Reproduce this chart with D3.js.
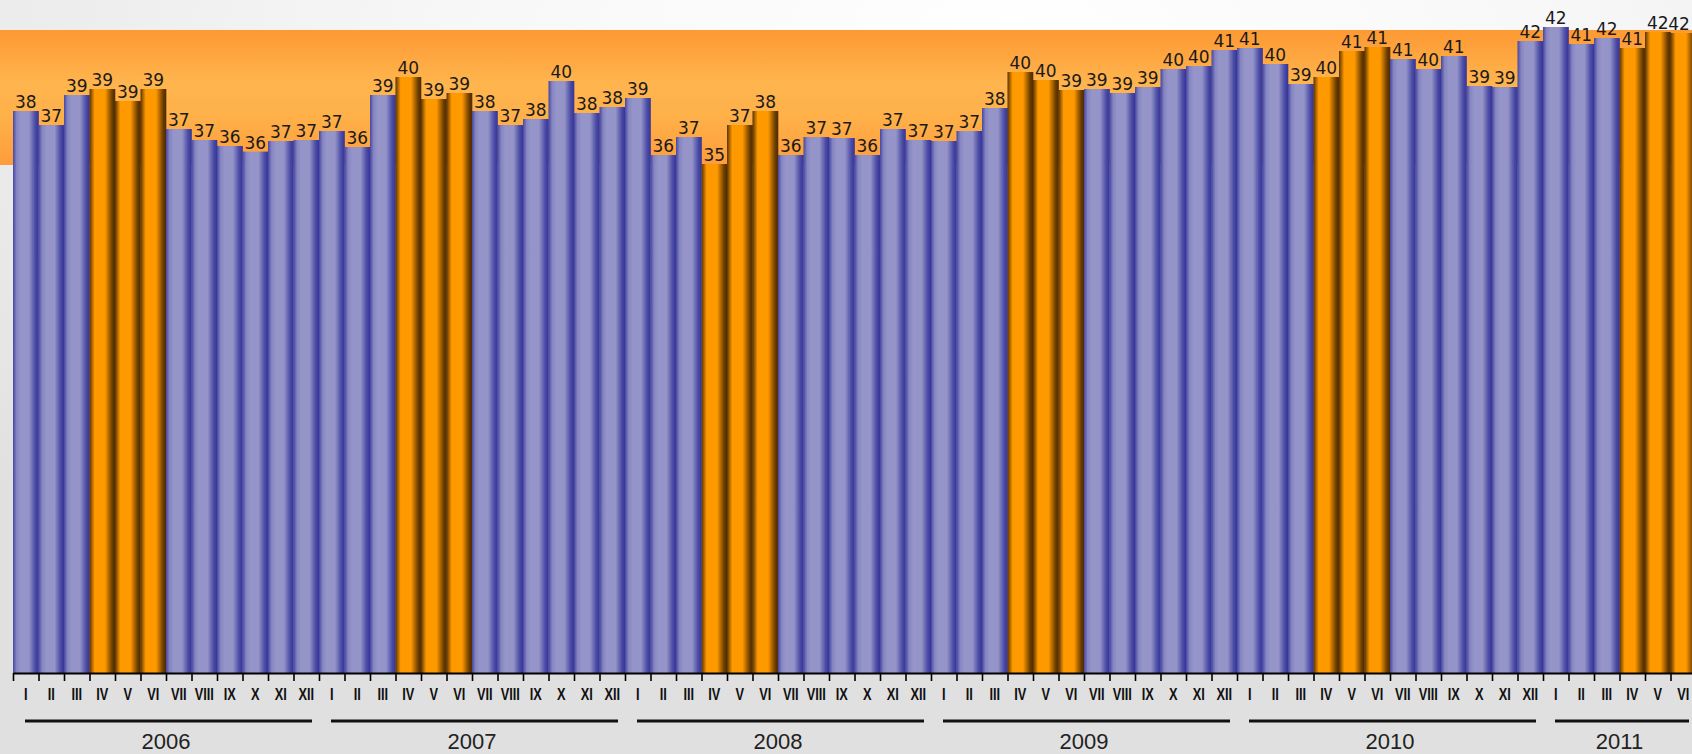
<!DOCTYPE html>
<html>
<head>
<meta charset="utf-8">
<script src="https://cdn.jsdelivr.net/npm/d3@7"></script>
<style>
  body { margin: 0; padding: 0; overflow: hidden; }
  svg { display: block; }
</style>
</head>
<body>
<script>
// months and years on the x axis
var months = ["I", "II", "III", "IV", "V", "VI", "VII", "VIII", "IX", "X", "XI", "XII"];
var years = ["2006", "2007", "2008", "2009", "2010", "2011"];
var monthsPerYear = [12, 12, 12, 12, 12, 6];

// bar values (one per month, I.2006 - VI.2011)
var values = [
  38.1, 37.4, 38.9, 39.2, 38.6, 39.2, 37.2, 36.65, 36.35, 36.07, 36.6, 36.65,
  37.1, 36.3, 38.9, 39.8, 38.7, 39.0, 38.1, 37.4, 37.7, 39.6, 38.0, 38.3,
  38.75, 35.9, 36.8, 35.45, 37.4, 38.1, 35.9, 36.8, 36.75, 35.9, 37.2, 36.65,
  36.6, 37.1, 38.25, 40.05, 39.65, 39.15, 39.2, 39.0, 39.3, 40.2, 40.35, 41.15,
  41.25, 40.45, 39.45, 39.8, 41.1, 41.3, 40.7, 40.2, 40.85, 39.35, 39.3, 41.6,
  42.3, 41.45, 41.75, 41.25, 42.05, 42.0
];

// data labels as printed on the bars
var labels = [
  38, 37, 39, 39, 39, 39, 37, 37, 36, 36, 37, 37,
  37, 36, 39, 40, 39, 39, 38, 37, 38, 40, 38, 38,
  39, 36, 37, 35, 37, 38, 36, 37, 37, 36, 37, 37,
  37, 37, 38, 40, 40, 39, 39, 39, 39, 40, 40, 41,
  41, 40, 39, 40, 41, 41, 41, 40, 41, 39, 39, 42,
  42, 41, 42, 41, 42, 42
];

// summer months (IV, V, VI) are drawn orange
var highlightMonths = ["IV", "V", "VI"];

var svgWidth = 1692;
var svgHeight = 754;
var plotLeft = 13;
var plotRight = 1696;
var baseline = 673;

// build the list of bars
var bars = [];
years.forEach(function(year, yi) {
  for (var m = 0; m < monthsPerYear[yi]; m++) {
    bars.push({ year: year, month: months[m] });
  }
});
bars.forEach(function(b, i) {
  b.index = i;
  b.value = values[i];
  b.label = labels[i];
});

var svg = d3.select("body")
            .append("svg")
            .attr("width", svgWidth)
            .attr("height", svgHeight);

var defs = svg.append("defs");

// page background
var bg = defs.append("radialGradient")
             .attr("id", "bgGrad")
             .attr("cx", "0.6").attr("cy", "0.05").attr("r", "0.85");
bg.append("stop").attr("offset", "0").attr("stop-color", "#ffffff");
bg.append("stop").attr("offset", "0.4").attr("stop-color", "#f7f7f7");
bg.append("stop").attr("offset", "1").attr("stop-color", "#e0e0e0");

// orange band behind the top of the bars
var band = defs.append("linearGradient")
               .attr("id", "bandGrad")
               .attr("x1", 0).attr("y1", 0).attr("x2", 0).attr("y2", 1);
band.append("stop").attr("offset", "0").attr("stop-color", "#fd9933");
band.append("stop").attr("offset", "0.4").attr("stop-color", "#ffb54e");
band.append("stop").attr("offset", "0.65").attr("stop-color", "#ffb049");
band.append("stop").attr("offset", "1").attr("stop-color", "#fe9c3b");

// cylinder like shading for the bars
function barGradient(id, stops) {
  var g = defs.append("linearGradient")
              .attr("id", id)
              .attr("x1", 0).attr("y1", 0).attr("x2", 1).attr("y2", 0);
  stops.forEach(function(s) {
    g.append("stop").attr("offset", s[0]).attr("stop-color", s[1]);
  });
}
barGradient("blueGrad", [
  [0, "#4646a2"], [0.14, "#8585c1"], [0.3, "#9595ca"], [0.62, "#9494c9"],
  [0.86, "#4b4ba5"], [1, "#333399"]
]);
barGradient("orangeGrad", [
  [0, "#5a3300"], [0.2, "#ff9900"], [0.6, "#ff9900"],
  [0.88, "#6a3c00"], [1, "#4a2a00"]
]);

svg.append("rect")
   .attr("width", svgWidth)
   .attr("height", svgHeight)
   .attr("fill", "url(#bgGrad)");

svg.append("rect")
   .attr("x", 0)
   .attr("y", 30)
   .attr("width", svgWidth)
   .attr("height", 135)
   .attr("fill", "url(#bandGrad)");

// scales
var xScale = d3.scaleBand()
               .domain(d3.range(bars.length))
               .range([plotLeft, plotRight])
               .padding(0);

var xEdge = d3.scaleLinear()
              .domain([0, bars.length])
              .range([plotLeft, plotRight]);

var yScale = d3.scaleLinear()
               .domain([10, 43])
               .range([baseline, baseline - 33 * 20]);

// bars
svg.selectAll(".bar")
   .data(bars)
   .enter()
   .append("rect")
   .attr("class", "bar")
   .attr("x", function(d) { return xScale(d.index); })
   .attr("y", function(d) { return yScale(d.value); })
   .attr("width", xScale.bandwidth() + 0.3)
   .attr("height", function(d) { return baseline - yScale(d.value); })
   .attr("fill", function(d) {
     return highlightMonths.indexOf(d.month) >= 0 ? "url(#orangeGrad)" : "url(#blueGrad)";
   });

// value labels (kept inside the picture at the right edge)
svg.selectAll(".vlabel")
   .data(bars)
   .enter()
   .append("text")
   .attr("class", "vlabel")
   .attr("x", function(d) {
     return Math.min(xScale(d.index) + xScale.bandwidth() / 2, svgWidth - 13);
   })
   .attr("y", function(d) { return yScale(d.value) - 3; })
   .attr("text-anchor", "middle")
   .style("font-family", "'DejaVu Sans', Verdana, sans-serif")
   .style("font-size", "17px")
   .style("fill", "#1a1a1a")
   .text(function(d) { return d.label; });

// x axis: ticks at the bar edges
var tickAxis = svg.append("g")
                  .attr("transform", "translate(0," + baseline + ")")
                  .call(d3.axisBottom(xEdge)
                          .tickValues(d3.range(0, bars.length + 1))
                          .tickSize(8)
                          .tickSizeOuter(0)
                          .tickFormat(""));
tickAxis.select(".domain")
        .attr("stroke", "#000")
        .attr("stroke-width", 2);
tickAxis.selectAll(".tick line")
        .attr("stroke", "#000")
        .attr("stroke-width", 1.6);

// month labels under each bar
var labelAxis = svg.append("g")
                   .attr("transform", "translate(0," + baseline + ")")
                   .call(d3.axisBottom(xScale)
                           .tickSize(0)
                           .tickFormat(function(i) { return bars[i].month; }));
labelAxis.select(".domain").remove();
labelAxis.selectAll(".tick text")
         .attr("y", 27)
         .attr("dy", 0)
         .attr("transform", "scale(0.8,1)")
         .style("font-family", "'Liberation Sans', Arial, sans-serif")
         .style("font-size", "16px")
         .style("font-weight", "bold")
         .style("fill", "#111");

// year groups: underline and year text
var yearGroups = [];
var start = 0;
years.forEach(function(year, yi) {
  yearGroups.push({ year: year, first: start, last: start + monthsPerYear[yi] - 1 });
  start += monthsPerYear[yi];
});

svg.selectAll(".yearline")
   .data(yearGroups)
   .enter()
   .append("line")
   .attr("class", "yearline")
   .attr("x1", function(d) { return xScale(d.first) + 12; })
   .attr("x2", function(d) { return xScale(d.last) + xScale.bandwidth() - 7; })
   .attr("y1", 721)
   .attr("y2", 721)
   .attr("stroke", "#111")
   .attr("stroke-width", 3);

svg.selectAll(".yeartext")
   .data(yearGroups)
   .enter()
   .append("text")
   .attr("class", "yeartext")
   .attr("x", function(d) { return (xScale(d.first) + xScale(d.last) + xScale.bandwidth()) / 2; })
   .attr("y", 749)
   .attr("text-anchor", "middle")
   .style("font-family", "'Liberation Sans', Arial, sans-serif")
   .style("font-size", "22px")
   .style("fill", "#222")
   .text(function(d) { return d.year; });
</script>
</body>
</html>
